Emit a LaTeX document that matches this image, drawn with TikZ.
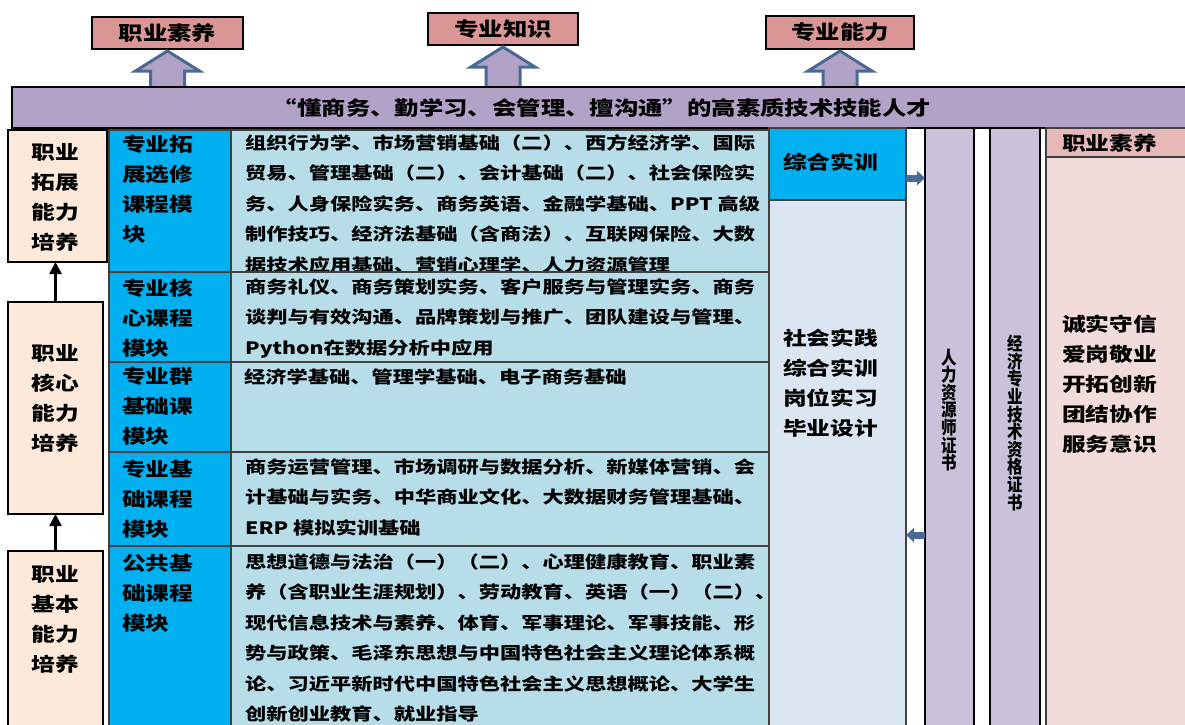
\documentclass[tikz,border=0pt]{standalone}
\usepackage{fontspec}
\usepackage{tikz}
\usetikzlibrary{positioning, fit, calc, arrows.meta}
\newfontfamily\cjk{Noto Sans CJK SC}[FakeStretch=1.25]
\newfontfamily\cjkn{Noto Sans CJK SC}[FakeStretch=0.86]

\definecolor{rose}{HTML}{D99694}
\definecolor{lilac}{HTML}{B3A2C7}
\definecolor{steel}{HTML}{4A6A94}
\definecolor{peach}{HTML}{FDE9D9}
\definecolor{modblue}{HTML}{00B0F0}
\definecolor{crsblue}{HTML}{B7DDE8}
\definecolor{pale}{HTML}{DCE6F2}
\definecolor{certfill}{HTML}{CCC1DA}
\definecolor{pinkhead}{HTML}{E6B9B8}
\definecolor{pinkbody}{HTML}{F2DCDB}
\definecolor{grid}{HTML}{404040}

\tikzset{
cell/.style={inner sep=0pt, outer sep=0pt}, % every box is fitted to its two corners
goal/.style={cell, draw, line width=2.5pt, fill=rose}, % the three aims on top
bandbox/.style={cell, draw, line width=2pt, fill=lilac}, % the long purple band
ability/.style={cell, draw, line width=2.5pt, fill=peach}, % boxes on the left
module/.style={cell, draw=grid, line width=1.2pt, fill=modblue}, % blue module cells
course/.style={cell, draw=grid, line width=1.2pt, fill=crsblue}, % course lists
palebox/.style={cell, draw=grid, line width=1.2pt, fill=pale},
certbox/.style={cell, draw, line width=2.5pt, fill=certfill}, % certificate columns
headbox/.style={cell, draw=grid, line width=1.2pt, fill=pinkhead},
bodybox/.style={cell, draw=grid, line width=1.2pt, fill=pinkbody},
goaltxt/.style={inner sep=0pt, font=\cjk\bfseries\fontsize{19.5}{22}\selectfont},
abltxt/.style={inner sep=0pt, align=center, font=\cjk\bfseries\fontsize{19}{30}\selectfont},
modtxt/.style={inner sep=0pt, align=left, font=\cjk\bfseries\fontsize{19}{30}\selectfont},
crstxt/.style={inner sep=0pt, align=left, font=\cjk\bfseries\fontsize{17}{30.4}\selectfont},
vtxt/.style={inner sep=0pt, align=center, font=\cjkn\bfseries\fontsize{18}{17.6}\selectfont}, % stacked upright letters
uparrow/.style={draw=steel, line width=3pt, fill=lilac, line join=miter},
uplink/.style={-{Triangle[width=12pt,length=12pt]}, line width=2.5pt},
side/.style={-{Triangle[width=14pt,length=8pt]}, line width=7pt, draw=steel},
}

% block arrow from the band (#2) up to an aim (#1)
\newcommand{\blockup}[2]{%
  \draw[uparrow] ($(#1.south)+(0pt,-2pt)$) -- ++(32pt,-20pt) -- ++(-15pt,0pt)
    -- ($(#2 -| #1.south)+(17pt,0pt)$) -- ($(#2 -| #1.south)+(-17pt,0pt)$)
    -- ($(#1.south)+(-17pt,-22pt)$) -- ++(-15pt,0pt) -- cycle;}

\begin{document}
\begin{tikzpicture}[x=1pt, y=-1pt]
  \useasboundingbox (0,0) rectangle (1185,724);
  \clip (0,0) rectangle (1185,724);
  % aims
  \node[goal, fit={(92,17) (243,49)}] (g1) {};
  \node[goal, fit={(428,13) (578,45)}] (g2) {};
  \node[goal, fit={(766,16) (914,49)}] (g3) {};
  \node[goaltxt] (g1t) at (g1.center) {职业素养};
  \node[goaltxt] (g2t) at (g2.center) {专业知识};
  \node[goaltxt] (g3t) at (g3.center) {专业能力};
  \coordinate (bandtop) at (12,88);
  \blockup{g1}{bandtop}
  \blockup{g2}{bandtop}
  \blockup{g3}{bandtop}
  \node[bandbox, fit={(12,87) (1192,128)}] (aim) {};
  \node[goaltxt] (aimt) at (602,108) {“懂商务、勤学习、会管理、擅沟通”的高素质技术技能人才};

  % abilities
  \node[ability, fit={(8,130) (107,262)}] (a1) {};
  \node[abltxt] (a1t) at (55,197) {职业\\拓展\\能力\\培养};
  \node[ability, fit={(8,302) (103,514)}] (a2) {};
  \node[abltxt] (a2t) at (55,398) {职业\\核心\\能力\\培养};
  \node[ability, fit={(8,551) (103,740)}] (a3) {};
  \node[abltxt] (a3t) at (55,619) {职业\\基本\\能力\\培养};
  \draw[uplink] (a2.north) -- (a2.north |- a1.south);
  \draw[uplink] (a3.north) -- (a3.north |- a2.south);

  % modules and courses
  \node[module, fit={(109,130) (231,272)}] (m1) {};
  \node[course, fit={(231,130) (769,272)}] (c1) {};
  \node[modtxt, below right=4.5pt and 13pt of m1.north west] (m1t) {专业拓\\展选修\\课程模\\块};
  \node[crstxt, below right=4.5pt and 14pt of c1.north west] (c1t) {组织行为学、市场营销基础（二）、西方经济学、国际\\贸易、管理基础（二）、会计基础（二）、社会保险实\\务、人身保险实务、商务英语、金融学基础、PPT 高级\\制作技巧、经济法基础（含商法）、互联网保险、大数\\据技术应用基础、营销心理学、人力资源管理};

  \node[module, fit={(109,272) (231,362)}] (m2) {};
  \node[course, fit={(231,272) (769,362)}] (c2) {};
  \node[modtxt, below right=6.5pt and 13pt of m2.north west] (m2t) {专业核\\心课程\\模块};
  \node[crstxt, below right=6.5pt and 14pt of c2.north west] (c2t) {商务礼仪、商务策划实务、客户服务与管理实务、商务\\谈判与有效沟通、品牌策划与推广、团队建设与管理、\\Python在数据分析中应用};

  \node[module, fit={(109,362) (231,452)}] (m3) {};
  \node[course, fit={(231,362) (769,452)}] (c3) {};
  \node[modtxt, below right=4.5pt and 13pt of m3.north west] (m3t) {专业群\\基础课\\模块};
  \node[crstxt, below right=6.5pt and 13pt of c3.north west] (c3t) {经济学基础、管理学基础、电子商务基础};

  \node[module, fit={(109,452) (231,546)}] (m4) {};
  \node[course, fit={(231,452) (769,546)}] (c4) {};
  \node[modtxt, below right=7.5pt and 13pt of m4.north west] (m4t) {专业基\\础课程\\模块};
  \node[crstxt, below right=6.5pt and 14pt of c4.north west] (c4t) {商务运营管理、市场调研与数据分析、新媒体营销、会\\计基础与实务、中华商业文化、大数据财务管理基础、\\ERP 模拟实训基础};

  \node[module, fit={(109,546) (231,740)}] (m5) {};
  \node[course, fit={(231,546) (769,740)}] (c5) {};
  \node[modtxt, below right=8.5pt and 13pt of m5.north west] (m5t) {公共基\\础课程\\模块};
  \node[crstxt, below right=7.5pt and 14pt of c5.north west] (c5t) {思想道德与法治（一）（二）、心理健康教育、职业素\\养（含职业生涯规划）、劳动教育、英语（一）（二）、\\现代信息技术与素养、体育、军事理论、军事技能、形\\势与政策、毛泽东思想与中国特色社会主义理论体系概\\论、习近平新时代中国特色社会主义思想概论、大学生\\创新创业教育、就业指导};

  % practice
  \node[module, fit={(769,128) (906,200)}] (zh) {};
  \node[modtxt, below right=24.5pt and 14pt of zh.north west] (zht) {综合实训};
  \node[palebox, fit={(769,200) (906,740)}] (sj) {};
  \node[modtxt, below right=128.5pt and 14pt of sj.north west] (sjt) {社会实践\\综合实训\\岗位实习\\毕业设计};

  % certificates
  \node[certbox, fit={(925,128) (974,740)}] (ct1) {};
  \node[vtxt] (ct1t) at (949.5,410) {人\\力\\资\\源\\师\\证\\书};
  \node[certbox, fit={(990,128) (1040,740)}] (ct2) {};
  \node[vtxt] (ct2t) at (1015,423) {经\\济\\专\\业\\技\\术\\资\\格\\证\\书};

  % qualities
  \node[headbox, fit={(1046,128) (1192,157)}] (q1) {};
  \node[modtxt, below right=5.5pt and 16pt of q1.north west] (q1t) {职业素养};
  \node[bodybox, fit={(1046,157) (1192,740)}] (q2) {};
  \node[modtxt, below right=157.5pt and 16pt of q2.north west] (q2t) {诚实守信\\爱岗敬业\\开拓创新\\团结协作\\服务意识};

  \coordinate (s1) at (906,178);
  \coordinate (s2) at (925,535);
  \draw[side] (s1) -- (s1 -| ct1.west);
  \draw[side] (s2) -- (s2 -| sj.east);
\end{tikzpicture}
\end{document}
